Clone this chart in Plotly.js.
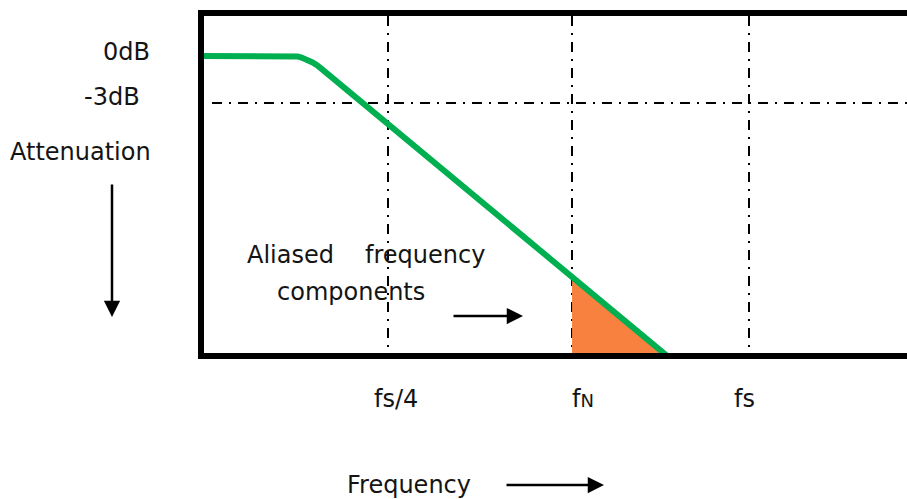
<!DOCTYPE html>
<html>
<head>
<meta charset="utf-8">
<script src="https://cdn.plot.ly/plotly-3.0.1.min.js"></script>
<style>html,body{margin:0;padding:0;background:#fff;}</style>
</head>
<body>
<div id="chart" style="width:907px;height:499px;"></div>
<script>
// ---- data ----
const tickVals = [1, 2, 2.96];
const tickText = ['fs/4', 'f<span style="font-size:18px">N</span>', 'fs'];
const tickShift = [7.5, 11, -4.5];
const levelVals = [0, -3];
const levelText = ['0dB', '-3dB'];
const responseX = [0, 0.474, 0.49, 0.51, 0.53, 0.55, 0.57, 0.59, 0.61, 0.634, 2.52];
const responseY = [0, 0, -0.01, -0.04, -0.10, -0.18, -0.28, -0.41, -0.56, -0.78, -19.17];
const aliasX = [2, 2, 2.497];
const aliasY = [-14.1, -18.95, -18.95];

// ---- layout geometry (pixels) ----
const W = 907, H = 499;
const L = 204, T = 16, B = 146, R = 0;
const plotW = W - L - R, plotH = H - T - B;
const px = x => (x - L) / plotW;
const py = y => (H - B - y) / plotH;

const FONT = {family: 'DejaVu Sans', size: 24, color: '#141414'};

const traces = [
  {x: aliasX, y: aliasY, type: 'scatter', mode: 'lines', fill: 'toself',
   fillcolor: '#F8813F', line: {width: 0, color: '#F8813F'}, hoverinfo: 'skip'},
  {x: responseX, y: responseY, type: 'scatter', mode: 'lines',
   line: {color: '#00B050', width: 6}, hoverinfo: 'skip'}
];

const annotations = [];
levelText.forEach((t, i) => {
  annotations.push({xref: 'paper', yref: 'y', x: px(i === 0 ? 152 : 142), y: levelVals[i],
    xanchor: 'right', yanchor: 'middle', yshift: i === 0 ? 4 : 5.5,
    text: t, showarrow: false, font: FONT});
});
tickText.forEach((t, i) => {
  annotations.push({xref: 'x', yref: 'paper', x: tickVals[i], y: py(399),
    xanchor: 'center', yanchor: 'middle', xshift: tickShift[i],
    text: t, showarrow: false, font: FONT});
});
const textItems = [
  ['Attenuation', 8, 152],
  ['Aliased', 245, 255],
  ['frequency', 363, 255],
  ['components', 275, 292],
  ['Frequency', 345, 485]
];
textItems.forEach(([t, x, y]) => {
  annotations.push({xref: 'paper', yref: 'paper', x: px(x), y: py(y),
    xanchor: 'left', yanchor: 'middle', text: t, showarrow: false, font: FONT});
});
const arrows = [
  [112, 317, 0, -134],
  [523, 316, -71, 0],
  [604, 485, -99, 0]
];
arrows.forEach(([x, y, ax, ay]) => {
  annotations.push({xref: 'paper', yref: 'paper', x: px(x), y: py(y), ax: ax, ay: ay,
    text: '', showarrow: true, arrowhead: 2, arrowsize: 1.3, arrowwidth: 2.5,
    arrowcolor: '#000', standoff: 0, startstandoff: 0});
});

const DASH = '10px,7px,2px,7px';

const layout = {
  width: W, height: H,
  margin: {l: L, r: R, t: T, b: B, pad: 0},
  paper_bgcolor: '#fff', plot_bgcolor: '#fff',
  showlegend: false,
  xaxis: {range: [0, 3.82], tickvals: tickVals, showticklabels: false, ticks: '',
    showgrid: true, gridcolor: '#000', gridwidth: 2, griddash: DASH,
    zeroline: false, showline: true, linecolor: '#000', linewidth: 6, mirror: true,
    fixedrange: true},
  yaxis: {range: [-18.95, 2.55], tickvals: levelVals, showticklabels: false, ticks: '',
    showgrid: false, zeroline: false, showline: true, linecolor: '#000', linewidth: 6,
    mirror: false, fixedrange: true},
  shapes: [
    {type: 'line', xref: 'paper', yref: 'y', x0: px(212), x1: 1, y0: levelVals[1], y1: levelVals[1],
     line: {color: '#000', width: 2, dash: DASH}, layer: 'below'}
  ],
  annotations: annotations
};

Plotly.newPlot('chart', traces, layout, {staticPlot: true, displayModeBar: false});
</script>
</body>
</html>
